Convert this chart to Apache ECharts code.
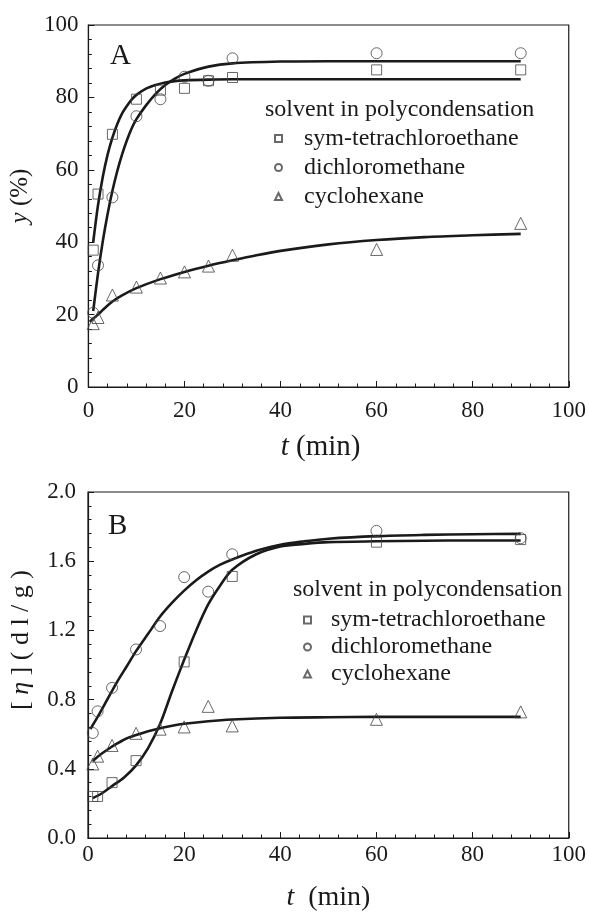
<!DOCTYPE html>
<html>
<head>
<meta charset="utf-8">
<script src="https://cdn.jsdelivr.net/npm/echarts@6/dist/echarts.min.js"></script>
<style>
html, body { margin: 0; padding: 0; background: #fff; }
#chart { width: 589px; height: 913px; }
</style>
</head>
<body>
<div id="chart"></div>
<script>
// 数据

// A: 产率 y (%) 对 t (min)
const tA = [1, 2, 5, 10, 15, 20, 25, 30, 60, 90];
const symA = [37.8, 53.3, 69.8, 79.5, 82.0, 82.5, 84.6, 85.5, 87.6, 87.6];
const dcmA = [20.5, 33.6, 52.4, 74.8, 79.5, 85.7, 84.6, 90.8, 92.2, 92.2];
const cyA = [17.5, 19.2, 25.4, 27.6, 30.1, 31.8, 33.4, 36.4, 38.0, 45.2];

// A: 拟合曲线
const fitT_A = [1, 2, 3, 4, 5, 6, 7, 8, 9, 10, 12, 14, 16, 18, 20, 25, 30, 40, 50, 60, 70, 80, 90];
const symFitA = [40, 50.2, 58.1, 64.2, 68.9, 72.6, 75.5, 77.6, 79.4, 80.7, 82.4, 83.4, 84.1, 84.5, 84.7, 84.9, 85, 85, 85, 85, 85, 85, 85];
const dcmFitA = [21, 31.4, 40.3, 47.8, 54.2, 59.6, 64.2, 68.1, 71.4, 74.0, 77.8, 81.0, 83.4, 85.2, 86.5, 88.5, 89.4, 89.9, 90, 90, 90, 90, 90];
const cyFitT_A = [0.3, 1, 2, 3, 5, 7, 10, 15, 20, 25, 30, 35, 40, 50, 60, 70, 80, 90];
const cyFitA = [18, 18.9, 20, 21.3, 23.6, 25.3, 27.3, 29.8, 31.8, 33.5, 35, 36.4, 37.6, 39.4, 40.6, 41.4, 41.9, 42.3];

// B: 特性粘数 [η] (dl/g) 对 t (min)
const symT_B = [1, 2, 5, 10, 20, 30, 60, 90];
const symB = [0.24, 0.24, 0.32, 0.447, 1.018, 1.512, 1.71, 1.725];
const tB = [1, 2, 5, 10, 15, 20, 25, 30, 60, 90];
const dcmB = [0.607, 0.732, 0.868, 1.09, 1.225, 1.508, 1.424, 1.64, 1.775, 1.733];
const cyB = [0.428, 0.473, 0.535, 0.605, 0.629, 0.642, 0.761, 0.648, 0.686, 0.729];

// B: 拟合曲线
const symFitT_B = [1, 3, 5, 7.5, 10, 12.5, 15, 17.5, 20, 22.5, 25, 27.5, 30, 35, 40, 45, 50, 60, 70, 80, 90];
const symFitB = [0.23, 0.26, 0.30, 0.35, 0.42, 0.52, 0.66, 0.85, 1.03, 1.20, 1.35, 1.46, 1.55, 1.64, 1.685, 1.70, 1.71, 1.715, 1.718, 1.72, 1.72];
const dcmFitT_B = [0.5, 2, 4, 6, 8, 10, 12.5, 15, 17.5, 20, 22.5, 25, 27.5, 30, 35, 40, 45, 50, 60, 70, 80, 90];
const dcmFitB = [0.63, 0.70, 0.80, 0.90, 0.99, 1.08, 1.18, 1.28, 1.36, 1.43, 1.49, 1.54, 1.58, 1.61, 1.66, 1.695, 1.715, 1.73, 1.745, 1.752, 1.756, 1.758];
const cyFitT_B = [1, 2, 4, 6, 8, 10, 12.5, 15, 17.5, 20, 25, 30, 40, 50, 60, 90];
const cyFitB = [0.445, 0.47, 0.51, 0.545, 0.575, 0.595, 0.617, 0.635, 0.649, 0.66, 0.675, 0.685, 0.695, 0.698, 0.70, 0.70];

// 图例文字
const NAMES = ['sym-tetrachloroethane', 'dichloromethane', 'cyclohexane'];
const LEGEND_TITLE = 'solvent in polycondensation';

const FONT = "'Liberation Serif', 'Times New Roman', serif";
const INK = '#1a1a1a';

// 把 t 和值合成点
function pairs(ts, vs) {
    let out = [];
    for (let i = 0; i < ts.length; i++) {
        out.push([ts[i], vs[i]]);
    }
    return out;
}

function scatter(name, symbol, size, ts, vs, idx) {
    return {
        name: name,
        type: 'scatter',
        xAxisIndex: idx,
        yAxisIndex: idx,
        symbol: symbol,
        symbolSize: size,
        itemStyle: { color: 'transparent', borderColor: '#444', borderWidth: 1 },
        data: pairs(ts, vs),
        z: 3
    };
}

function fit(name, ts, vs, idx) {
    return {
        name: name,
        type: 'line',
        xAxisIndex: idx,
        yAxisIndex: idx,
        showSymbol: false,
        symbol: 'none',
        smooth: 0.3,
        lineStyle: { color: INK, width: 2.6 },
        data: pairs(ts, vs),
        z: 2
    };
}

function xAxis(idx, margin, gap, name, size, shift) {
    return {
        gridIndex: idx,
        type: 'value',
        min: 0, max: 100, interval: 20,
        name: name,
        nameLocation: 'middle',
        nameGap: gap,
        nameTextStyle: {
            fontFamily: FONT, fontSize: size, color: INK,
            padding: [0, shift, 0, 0],
            rich: { i: { fontFamily: FONT, fontSize: size, fontStyle: 'italic', color: INK } }
        },
        axisLine: { lineStyle: { color: INK, width: 1.2 } },
        axisTick: { inside: true, length: 6, lineStyle: { color: INK } },
        minorTick: { show: true, splitNumber: 5, length: 3.5, lineStyle: { color: INK } },
        axisLabel: { margin: margin, fontFamily: FONT, fontSize: 23, color: INK },
        splitLine: { show: false }
    };
}

function yAxis(idx, max, interval, gap, name, fmt, margin, size, shift) {
    return {
        gridIndex: idx,
        type: 'value',
        min: 0, max: max, interval: interval,
        name: name,
        nameLocation: 'middle',
        nameGap: gap,
        nameTextStyle: {
            fontFamily: FONT, fontSize: size, color: INK,
            padding: [0, 0, 0, shift],
            rich: { i: { fontFamily: FONT, fontSize: size, fontStyle: 'italic', color: INK } }
        },
        axisLine: { lineStyle: { color: INK, width: 1.2 } },
        axisTick: { inside: true, length: 6, lineStyle: { color: INK } },
        minorTick: { show: true, splitNumber: 5, length: 3.5, lineStyle: { color: INK } },
        axisLabel: { margin: margin, fontFamily: FONT, fontSize: 23, color: INK, formatter: fmt },
        splitLine: { show: false }
    };
}

function legend(left, top, gap, pad) {
    return {
        orient: 'vertical',
        left: left,
        top: top,
        padding: 0,
        itemWidth: 7,
        itemHeight: 7,
        itemGap: gap,
        selectedMode: false,
        data: NAMES,
        textStyle: {
            fontFamily: FONT, fontSize: 24, color: INK,
            lineHeight: 24, padding: [0, 0, 0, pad]
        }
    };
}

function label(text, left, top, size) {
    return {
        type: 'text',
        left: left,
        top: top,
        style: { text: text, fontFamily: FONT, fontSize: size, fill: INK }
    };
}

const chart = echarts.init(document.getElementById('chart'), null, { renderer: 'canvas' });

const option = {
    animation: false,
    backgroundColor: '#fff',
    grid: [
        { left: 81, top: 25, width: 488, height: 362, show: true, borderColor: INK, borderWidth: 1.2, backgroundColor: 'transparent' },
        { left: 87, top: 492, width: 482, height: 355, show: true, borderColor: INK, borderWidth: 1.2, backgroundColor: 'transparent' }
    ],
    xAxis: [
        xAxis(0, 12, 46, '{i|t} (min)', 29, 16),
        xAxis(1, 5, 46, '{i|t}  (min)', 28, 0)
    ],
    yAxis: [
        yAxis(0, 100, 20, 47, '{i|y} (%)', function (v) { return String(v); }, 10, 25, 20),
        yAxis(1, 2, 0.4, 54, '[ {i|η} ] ( d l / g )', function (v) { return v.toFixed(1); }, 12, 26, 50)
    ],
    legend: [
        legend(274, 126.5, 5, 17),
        legend(303, 608, 3, 15)
    ],
    graphic: [
        label('A', 110, 42, 29),
        label('B', 108, 512, 29),
        label(LEGEND_TITLE, 265, 98, 24),
        label(LEGEND_TITLE, 293, 578, 24)
    ],
    series: [
        fit('fitA1', fitT_A, symFitA, 0),
        fit('fitA2', fitT_A, dcmFitA, 0),
        fit('fitA3', cyFitT_A, cyFitA, 0),
        scatter(NAMES[0], 'rect', 10, tA, symA, 0),
        scatter(NAMES[1], 'circle', 11, tA, dcmA, 0),
        scatter(NAMES[2], 'triangle', 12, tA, cyA, 0),
        fit('fitB1', symFitT_B, symFitB, 1),
        fit('fitB2', dcmFitT_B, dcmFitB, 1),
        fit('fitB3', cyFitT_B, cyFitB, 1),
        scatter(NAMES[0], 'rect', 10, symT_B, symB, 1),
        scatter(NAMES[1], 'circle', 11, tB, dcmB, 1),
        scatter(NAMES[2], 'triangle', 12, tB, cyB, 1)
    ]
};

chart.setOption(option);
</script>
</body>
</html>
